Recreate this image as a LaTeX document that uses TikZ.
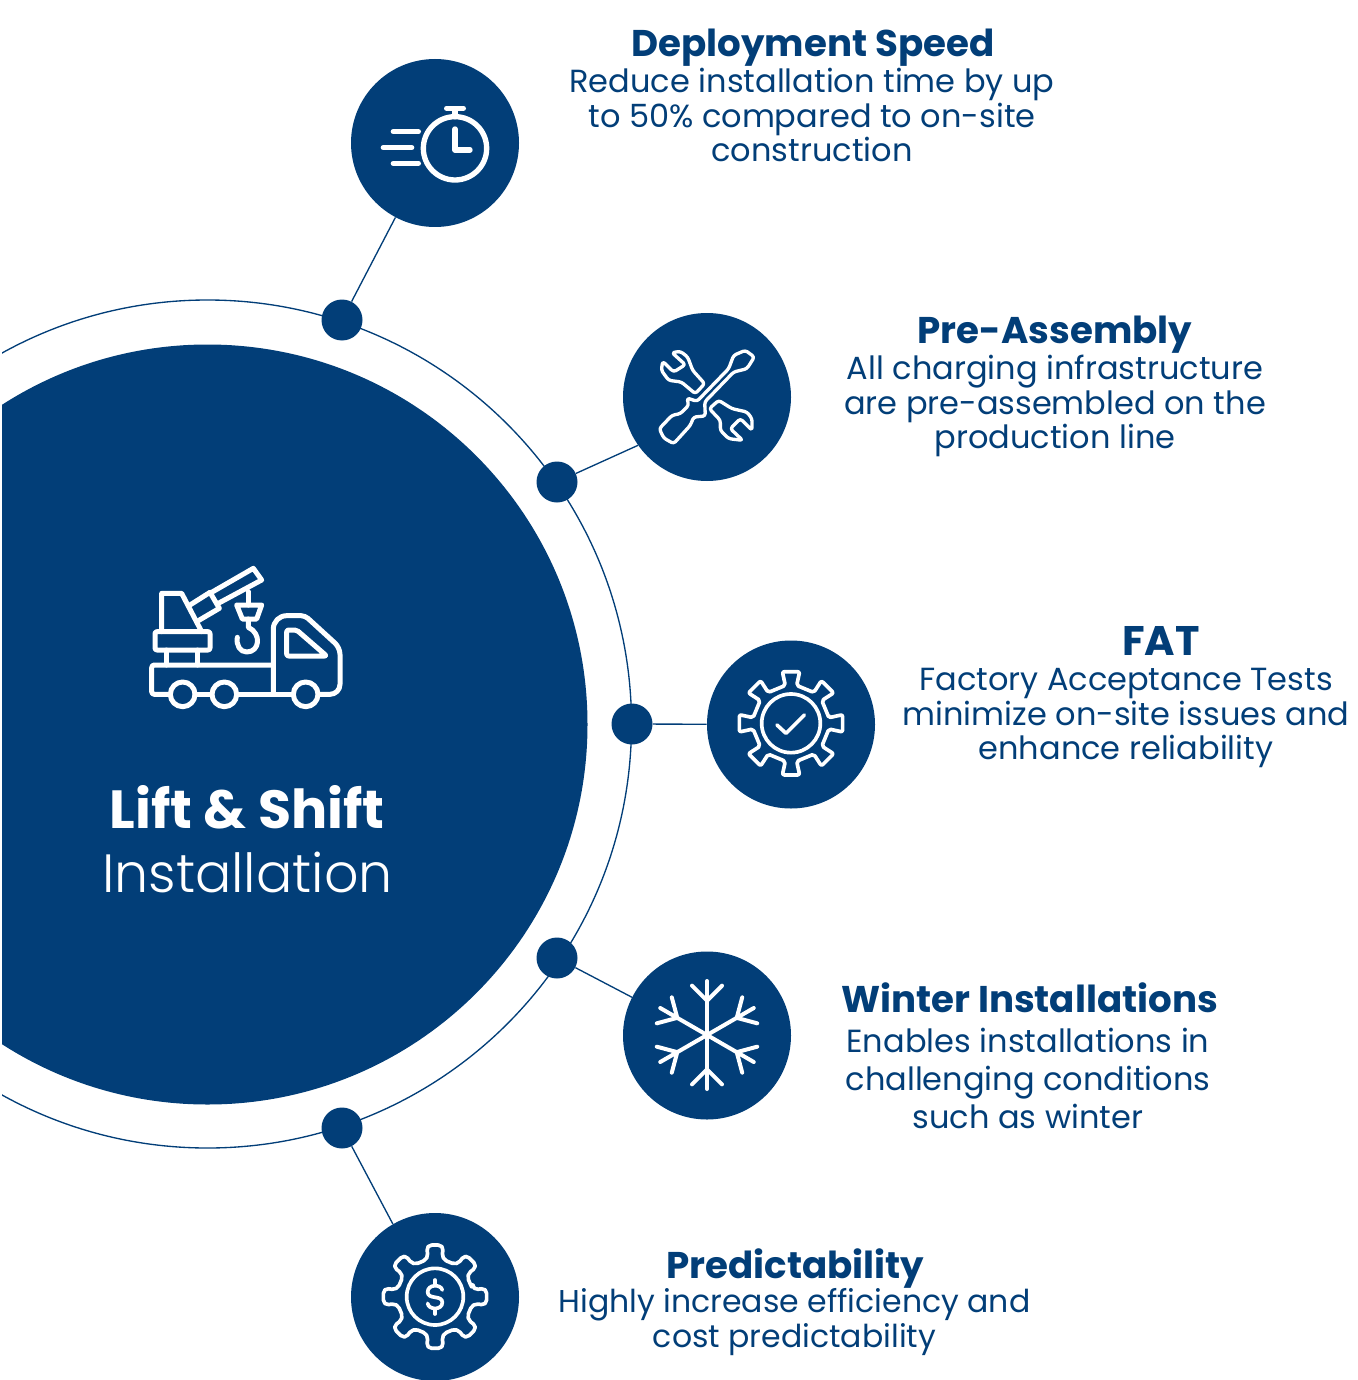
\documentclass[tikz,border=0pt]{standalone}
\usepackage{fontspec}
\setmainfont{Poppins}
\newfontfamily\popbold{Poppins Bold}
\newfontfamily\poplight{Poppins Light}
\definecolor{navy}{HTML}{023E78}
\tikzset{
  big/.style={circle,fill=navy,draw=none,inner sep=0pt,minimum size=760*0.75pt},
  badge/.style={circle,fill=navy,draw=none,inner sep=0pt,minimum size=168*0.75pt},
  hub/.style={circle,fill=navy,draw=none,inner sep=0pt,minimum size=41*0.75pt},
  link/.style={draw=navy,line width=1pt},
  ttl/.style={text=navy,inner sep=0pt,font=\popbold\fontsize{27.9pt}{30pt}\selectfont},
  body/.style={text=navy,inner sep=0pt,align=center,font=\fontsize{24pt}{25.9pt}\selectfont},
  ico/.style={draw=white,line cap=round,line join=round,line width=#1*0.25pt},
  ico/.default=15
}
\begin{document}
\begin{tikzpicture}[x=0.75pt,y=-0.75pt]
\useasboundingbox (0,0) rectangle (1357,1380);
\begin{scope}
\clip (2,0) rectangle (1357,1380);
\node[big] (core) at (207.5,724.5) {};
\draw[link] (207.5,724) circle (424);
\end{scope}
\node[hub] (d1) at (342,320) {};
\node[hub] (d2) at (557,482) {};
\node[hub] (d3) at (632,724) {};
\node[hub] (d4) at (557,958) {};
\node[hub] (d5) at (342,1128) {};
\node[badge] (c1) at (435,143) {};
\node[badge] (c2) at (707,397) {};
\node[badge] (c3) at (791,724.5) {};
\node[badge] (c4) at (707,1035.5) {};
\node[badge] (c5) at (435,1297) {};
\draw[link] (d1) -- (c1.242);
\draw[link] (d2) -- (c2.215);
\draw[link] (d3) -- (c3);
\draw[link] (d4) -- (c4.153);
\draw[link] (d5) -- (c5.120.6);
% truck
\begin{scope}[shift={(130,550)},scale=1/3,ico]
\draw[rounded corners=2pt] (120,433) -- (65,433) -- (65,345) -- (430,345);
\draw (195,433) -- (245,433);
\draw (320,433) -- (490,433);
\draw[rounded corners=7.5pt] (565,433) -- (630,433) [rounded corners=5pt] -- (630,293) [rounded corners=3pt] -- (525,197) [rounded corners=10pt] -- (430,197) -- (430,433);
\draw[rounded corners=1.5pt] (470,240) -- (500,240) -- (590,318) -- (470,318) -- cycle;
\foreach \px in {158,283,527} \draw (\px,433) circle (37);
\draw[rounded corners=1.5pt] (75,245) rectangle (240,300);
\draw (108,300) -- (108,345) (203,300) -- (203,345);
\draw (95,245) -- (95,130) -- (155,130) -- (215,245);
\draw (180,165) -- (240,127) -- (268,175) -- (205,212);
\draw (245,127) -- (370,55) -- (395,90) -- (265,160);
\draw (355,125) -- (355,165);
\draw (320,165) -- (395,165) -- (380,207) -- (337,207) -- cycle;
\draw (355,207) -- (355,232) .. controls (395,250) and (390,306) .. (350,306) .. controls (330,306) and (318,285) .. (322,262);
\end{scope}
% stopwatch
\begin{scope}[shift={(350,60)},scale=1/3,ico=16]
\draw (315,265) circle (95);
\draw (290,145) -- (340,145);
\draw (315,150) -- (315,170);
\draw (315,207) -- (315,270) -- (360,270);
\draw (130,215) -- (205,215);
\draw (100,263) -- (185,263);
\draw (130,310) -- (205,310);
\end{scope}
% tools
\begin{scope}[shift={(622,312)},scale=1/3,ico=10]
\draw[rounded corners=2pt] (122,148) -- (155,180) -- (190,158) -- (150,122) -- (175,118) -- (197,135) -- (212,175) -- (248,215) -- (220,245) -- (178,210) -- (140,205) -- (118,175) -- cycle;
\draw[rounded corners=2pt] (290,265) -- (262,290) -- (295,325) -- (295,355) -- (320,380) -- (362,385) -- (325,350) -- (355,320) -- (390,355) -- (390,320) -- (375,300) -- (330,290) -- cycle;
\draw[rounded corners=2pt] (370,115) -- (397,135) -- (375,170) -- (335,180) -- (248,270) -- (250,312) -- (215,315) -- (205,340) -- (155,395) -- (125,378) -- (112,350) -- (150,310) -- (175,305) -- (200,280) -- (195,258) -- (225,268) -- (320,170) -- (335,130) -- cycle;
\end{scope}
% gear check
\begin{scope}[shift={(706,640)},scale=1/3,ico=11]
\begin{scope}[shift={(255,250)}]
\draw[rounded corners=1.5pt] (-8.5:115)
  \foreach \a in {0,45,...,315} { -- ({\a-8.5}:115) -- ({\a-9.5}:157) -- ({\a+9.5}:157) -- ({\a+8.5}:115) } -- cycle;
\draw (0,0) circle (88);
\draw (-42,5) -- (-15,30) -- (40,-25);
\end{scope}
\end{scope}
% snowflake
\begin{scope}[shift={(622,950)},scale=1/3,ico=12]
\begin{scope}[shift={(255,255)}]
\foreach \a in {30,90,...,330} {
  \begin{scope}[rotate=\a]
  \draw (0,0) -- (162,0);
  \draw (148,45) -- (103,0) -- (148,-45);
  \end{scope}
}
\end{scope}
\end{scope}
% money gear
\begin{scope}[shift={(350,1210)},scale=1/3,ico=11]
\begin{scope}[shift={(255,260)}]
\draw[rounded corners=4pt] (-10:115)
  \foreach \a in {0,45,...,315} { -- ({\a-10}:115) -- ({\a-9.5}:157) -- ({\a+9.5}:157) -- ({\a+10}:115) } -- cycle;
\draw (0,0) circle (85);
\draw (0,-50) -- (0,-35) (0,37) -- (0,52);
\draw (22,-20) .. controls (18,-38) and (-22,-38) .. (-22,-14) .. controls (-22,10) and (22,-6) .. (22,17) .. controls (22,42) and (-20,40) .. (-22,20);
\end{scope}
\end{scope}
% centre
\node[text=white,inner sep=0pt,font=\popbold\fontsize{40.3pt}{44pt}\selectfont] (m1) at (247,807) {Lift \& Shift};
\node[text=white,inner sep=0pt,font=\poplight\fontsize{40.4pt}{44pt}\selectfont] (m2) at (247.5,872) {Installation};
% texts
\node[ttl] (t1) at (813,48) {Deployment Speed};
\node[body] (b1) at (812,115) {Reduce installation time by up\\to 50\% compared to on-site\\construction};
\node[ttl] (t2) at (1055,335) {Pre-Assembly};
\node[body] (b2) at (1055,406) {All charging infrastructure\\are pre-assembled on the\\production line};
\node[ttl,font=\popbold\fontsize{31pt}{32pt}\selectfont] (t3) at (1161,641) {FAT};
\node[body] (b3) at (1126,718) {Factory Acceptance Tests\\minimize on-site issues and\\enhance reliability};
\node[ttl] (t4) at (1029.5,998) {Winter Installations};
\node[body,font=\fontsize{24pt}{28.5pt}\selectfont] (b4) at (1028,1078) {Enables installations in\\challenging conditions\\such as winter};
\node[ttl] (t5) at (795.5,1269) {Predictability};
\node[body,font=\fontsize{23.65pt}{25.9pt}\selectfont] (b5) at (794.5,1322) {Highly increase efficiency and\\cost predictability};
\end{tikzpicture}
\end{document}
